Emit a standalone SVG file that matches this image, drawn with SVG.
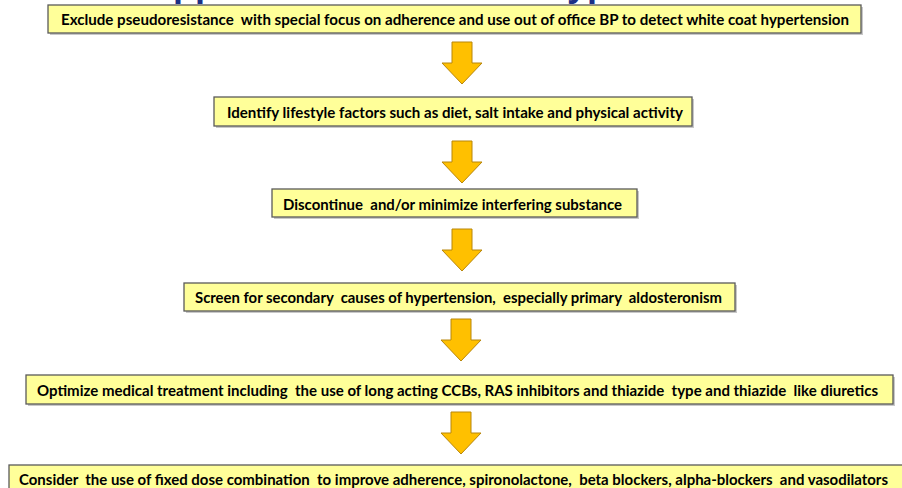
<svg xmlns="http://www.w3.org/2000/svg" width="902" height="488" viewBox="0 0 902 488">
<style>
.box{fill:#ffff99;stroke:#5a5a5a;stroke-width:1.3}
.sh{fill:#c8c8c8}
.t{font-family:Lato,"Liberation Sans",sans-serif;font-weight:bold;font-size:15px;fill:#000;white-space:pre}
.arr{fill:#ffc000;stroke:#b8860b;stroke-width:1}
.title{font-family:"Liberation Sans",Arial,sans-serif;font-weight:bold;font-size:36px;fill:#1c2f86}
</style>
<defs>
<path id="down" d="M-10,0 H10 V21 H20 L0,42 L-20,21 H-10 Z"/>
</defs>
<text class="title" x="147" y="-4.5">Approach to Resistant Hypertension</text>
<g id="connectors">
<use href="#down" class="arr" x="462" y="42"/>
<use href="#down" class="arr" x="462" y="141"/>
<use href="#down" class="arr" x="462" y="229"/>
<use href="#down" class="arr" x="461" y="319"/>
<use href="#down" class="arr" x="461" y="412"/>
</g>
<g id="n1">
<rect class="sh" x="50" y="7" width="813" height="28"/>
<rect class="box" x="48" y="5" width="813" height="28"/>
<text class="t" x="61" y="24.5" textLength="788" lengthAdjust="spacingAndGlyphs">Exclude pseudoresistance  with special focus on adherence and use out of office BP to detect white coat hypertension</text>
</g>
<g id="n2">
<rect class="sh" x="216" y="99" width="478" height="29"/>
<rect class="box" x="214" y="97" width="478" height="29"/>
<text class="t" x="227" y="117.5" textLength="456" lengthAdjust="spacingAndGlyphs">Identify lifestyle factors such as diet, salt intake and physical activity</text>
</g>
<g id="n3">
<rect class="sh" x="274" y="191" width="365" height="28"/>
<rect class="box" x="272" y="189" width="365" height="28"/>
<text class="t" x="283" y="209.5" textLength="339" lengthAdjust="spacingAndGlyphs">Discontinue  and/or minimize interfering substance</text>
</g>
<g id="n4">
<rect class="sh" x="186" y="285" width="551" height="28"/>
<rect class="box" x="184" y="283" width="551" height="28"/>
<text class="t" x="195" y="302.5" textLength="527" lengthAdjust="spacingAndGlyphs">Screen for secondary  causes of hypertension,  especially primary  aldosteronism</text>
</g>
<g id="n5">
<rect class="sh" x="28" y="377" width="867" height="29"/>
<rect class="box" x="26" y="375" width="867" height="29"/>
<text class="t" x="37" y="395.5" textLength="841" lengthAdjust="spacingAndGlyphs">Optimize medical treatment including  the use of long acting CCBs, RAS inhibitors and thiazide  type and thiazide  like diuretics</text>
</g>
<g id="n6">
<rect class="sh" x="11" y="467" width="900" height="30"/>
<rect class="box" x="9" y="465" width="900" height="30"/>
<text class="t" x="19" y="484.5" textLength="869" lengthAdjust="spacingAndGlyphs">Consider  the use of fixed dose combination  to improve adherence, spironolactone,  beta blockers, alpha-blockers  and vasodilators</text>
</g>
</svg>
